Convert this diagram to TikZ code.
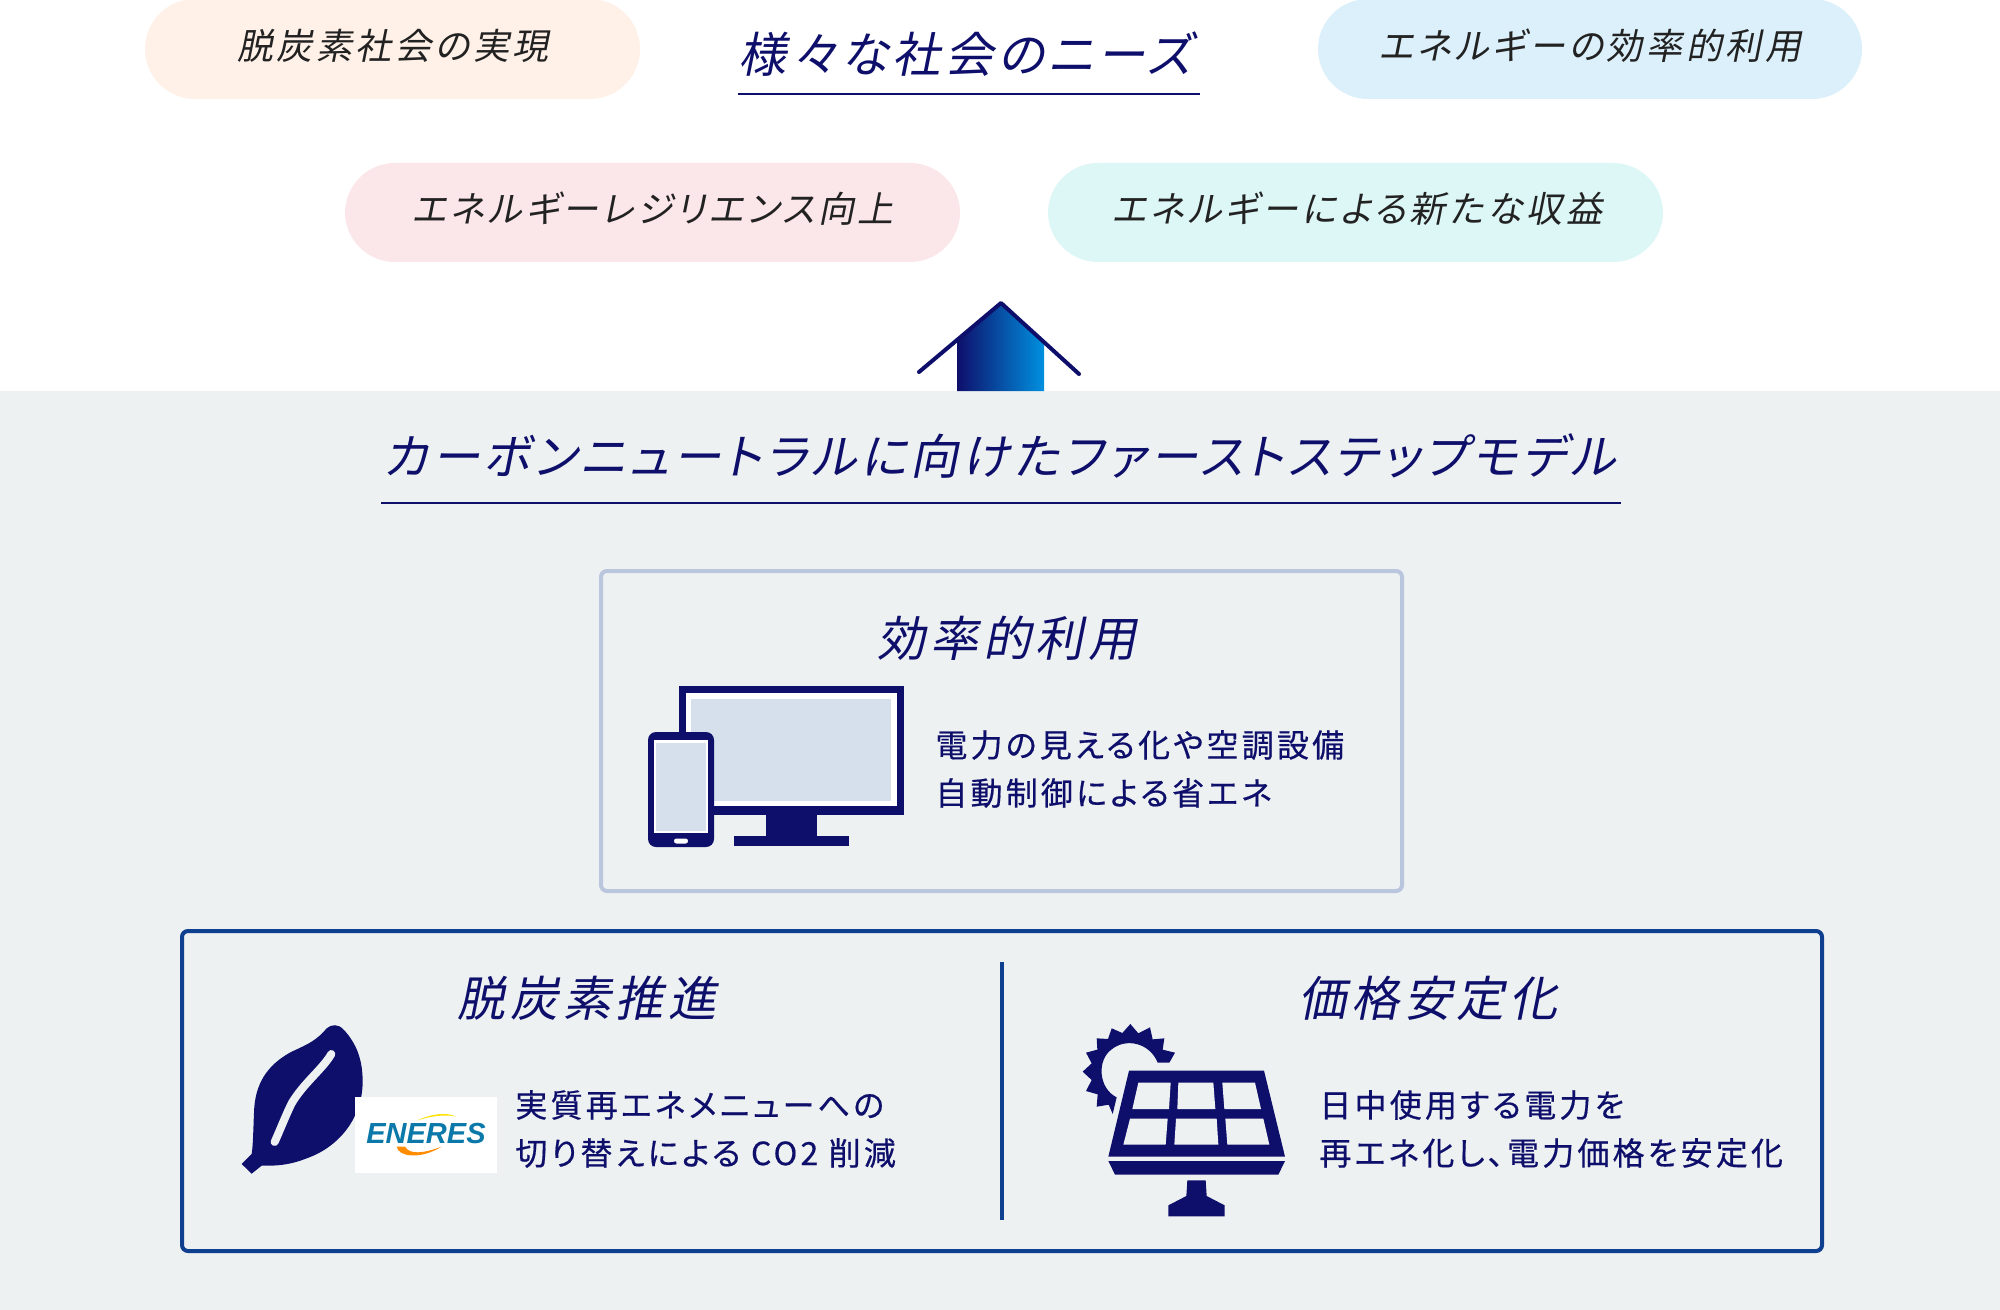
\documentclass[tikz,border=0pt]{standalone}
\usepackage{fontspec}
\newfontfamily\pillfont[FakeSlant=0.2,LetterSpace=10,RawFeature={+palt}]{Noto Sans CJK JP}
\newfontfamily\headfont[FakeSlant=0.2,LetterSpace=9.5,RawFeature={+palt}]{Noto Sans CJK JP}
\newfontfamily\longfont[FakeSlant=0.2,LetterSpace=8.4,RawFeature={+palt}]{Noto Sans CJK JP}
\newfontfamily\bodyfont[LetterSpace=10,FakeBold=0.5,RawFeature={+palt}]{Noto Sans CJK JP}
\newfontfamily\logofont{Liberation Sans}
\definecolor{navy}{HTML}{0E0F6B}
\definecolor{panelgrey}{HTML}{EEF1F2}
\definecolor{peach}{HTML}{FFF1E8}
\definecolor{skyp}{HTML}{DBF0FA}
\definecolor{pinkp}{HTML}{FBE6E9}
\definecolor{cyanp}{HTML}{DDF6F6}
\definecolor{pale}{HTML}{D6E0EC}
\definecolor{boxa}{HTML}{B9C6DE}
\definecolor{boxb}{HTML}{0F3F8F}
\definecolor{grtext}{HTML}{222222}
\definecolor{logoblue}{HTML}{0A78A8}
\definecolor{arrowend}{HTML}{0090DF}
\tikzset{
  pillbox/.style={rounded corners=25pt},
  pilltext/.style={inner sep=0pt,text=grtext,font=\pillfont\fontsize{18}{20}\selectfont},
  headtext/.style={inner sep=0pt,text=navy,font=\headfont\fontsize{24}{27}\selectfont},
  longtext/.style={inner sep=0pt,text=navy,font=\longfont\fontsize{24}{26}\selectfont},
  bodytext/.style={inner sep=0pt,anchor=west,text=navy,font=\bodyfont\fontsize{16}{18}\selectfont},
  rulea/.style={draw=navy,line width=1pt},
  framebox/.style={rounded corners=3pt,line width=2pt,fill=panelgrey},
  icon/.style={fill=navy},
}
\begin{document}
\begin{tikzpicture}[x=0.5pt,y=-0.5pt]
\useasboundingbox (0,0) rectangle (2000,1310);
\clip (0,0) rectangle (2000,1310);
\fill[white] (0,0) rectangle (2000,391);
\fill[panelgrey] (0,391) rectangle (2000,1310);
% pills
\fill[peach,pillbox] (145,-1) rectangle (640,99);
\fill[skyp,pillbox] (1318,-1) rectangle (1862,99);
\fill[pinkp,pillbox] (345,163) rectangle (960,262);
\fill[cyanp,pillbox] (1048,163) rectangle (1663,262);
\node[pilltext] (p1) at (393,46) {脱炭素社会の実現};
\node[pilltext] (p2) at (1590,46) {エネルギーの効率的利用};
\node[pilltext] (p3) at (653,209) {エネルギーレジリエンス向上};
\node[pilltext] (p4) at (1357,209) {エネルギーによる新たな収益};
% titles
\node[headtext] (t1) at (965,54) {様々な社会のニーズ};
\draw[rulea] (738,94) -- (1200,94);
\node[longtext] (t2) at (1000,456) {カーボンニュートラルに向けたファーストステップモデル};
\draw[rulea] (381,503) -- (1621,503);
% arrow
\shade[left color=navy,right color=arrowend] (957,340) -- (1001,303) -- (1044,342) -- (1044,391) -- (957,391) -- cycle;
\draw[navy,line width=2pt,line cap=round,line join=round] (919,372) -- (1001,303) -- (1079,374);
% frames
\draw[framebox,draw=boxa] (601,571) rectangle (1402,891);
\draw[framebox,draw=boxb] (182,931) rectangle (1822,1251);
\draw[boxb,line width=2pt] (1002,962) -- (1002,1220);
\node[headtext] (h1) at (1007,638) {効率的利用};
\node[headtext] (h2) at (587,998) {脱炭素推進};
\node[headtext] (h3) at (1428,998) {価格安定化};
\node[bodytext] (b1) at (935,745) {電力の見える化や空調設備};
\node[bodytext] (b2) at (935,793) {自動制御による省エネ};
\node[bodytext] (b3) at (515,1105) {実質再エネメニューへの};
\node[bodytext] (b4) at (515,1153) {切り替えによる CO2 削減};
\node[bodytext] (b5) at (1319,1105) {日中使用する電力を};
\node[bodytext] (b6) at (1319,1153) {再エネ化し、電力価格を安定化};
% monitor
\fill[icon] (679,686) rectangle (904,815);
\fill[white] (686,693) rectangle (897,806);
\fill[pale] (691,699) rectangle (891,801);
\fill[icon] (766,815) rectangle (817,836);
\fill[icon] (734,836) rectangle (849,846);
% phone
\fill[icon,rounded corners=4pt] (648,732) rectangle (714,847);
\fill[white] (654,740) rectangle (708,833);
\fill[pale] (656,743) rectangle (706,831);
\fill[white,rounded corners=1.2pt] (674,838.5) rectangle (688,843.5);
% leaf
\begin{scope}[shift={(220,1010)},scale=1/3]
\fill[icon] (65,462) -- (95,432) .. controls (100,400) and (100,340) .. (103,290)
  .. controls (110,210) and (150,160) .. (215,125)
  .. controls (270,100) and (290,90) .. (320,55)
  .. controls (335,42) and (355,42) .. (370,58)
  .. controls (410,100) and (428,150) .. (428,215)
  .. controls (428,320) and (360,410) .. (260,445)
  .. controls (210,465) and (170,468) .. (125,467) -- (95,491) -- cycle;
\draw[panelgrey,line width=4pt,line cap=round] (334,132) .. controls (310,175) and (250,220) .. (215,280) .. controls (200,310) and (180,360) .. (164,396);
\fill[white] (405,261) rectangle (831,489);
\fill[yellow!85!orange] (590,332) .. controls (630,312) and (680,305) .. (708,320) .. controls (680,312) and (630,318) .. (590,332) -- cycle;
\fill[orange!90!yellow] (530,410) .. controls (535,440) and (600,450) .. (665,410) .. controls (610,430) and (570,435) .. (555,410) -- cycle;
\node[inner sep=0pt,text=logoblue,font=\logofont\bfseries\itshape\fontsize{14.5}{18}\selectfont] (logo) at (618,372) {ENERES};
\end{scope}
% solar
\begin{scope}[shift={(1070,1010)},scale=1/3]
\fill[icon] (263,158) -- (298,158) -- (315,128) -- (278,119) -- (283,85) -- (248,88) -- (240,52) -- (205,70) -- (181,42) -- (157,69) -- (125,55) -- (114,87) -- (80,85) -- (82,119) -- (48,128) -- (65,160) -- (38,185) -- (65,210) -- (48,243) -- (83,253) -- (80,290) -- (116,284) -- (128,312) -- (140,262)
  .. controls (85,235) and (80,150) .. (125,118) .. controls (170,82) and (240,100) .. (263,158) -- cycle;
\fill[icon] (177,182) -- (582,182) -- (645,440) -- (115,440) -- cycle;
\fill[panelgrey] (205,218) -- (302,218) -- (297,297) -- (187,297) -- cycle;
\fill[panelgrey] (325,218) -- (430,218) -- (436,297) -- (322,297) -- cycle;
\fill[panelgrey] (457,218) -- (555,218) -- (573,297) -- (463,297) -- cycle;
\fill[panelgrey] (180,326) -- (293,326) -- (287,404) -- (160,404) -- cycle;
\fill[panelgrey] (318,326) -- (440,326) -- (445,404) -- (313,404) -- cycle;
\fill[panelgrey] (466,326) -- (580,326) -- (598,404) -- (472,404) -- cycle;
\fill[icon] (115,453) -- (645,453) -- (625,494) -- (135,494) -- cycle;
\fill[icon] (352,511) -- (407,511) -- (410,558) -- (464,586) -- (464,619) -- (295,619) -- (295,586) -- (349,558) -- cycle;
\end{scope}
\end{tikzpicture}
\end{document}
